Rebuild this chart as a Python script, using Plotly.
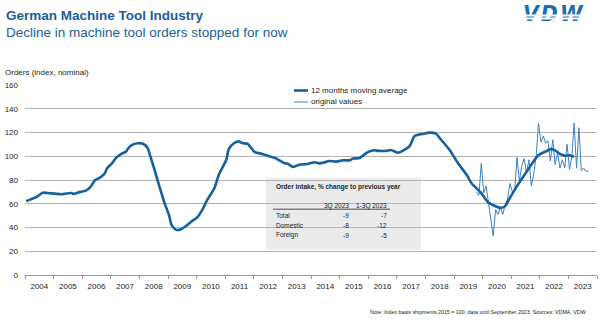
import plotly.graph_objects as go

# ---------------- data ----------------
ma_months = ["2004-01", "2004-04", "2004-06", "2004-08", "2004-10", "2005-01", "2005-04", "2005-06",
             "2005-08", "2005-09", "2005-11", "2006-02", "2006-04", "2006-06", "2006-08", "2006-10",
             "2006-11", "2007-01", "2007-03", "2007-05", "2007-07", "2007-08", "2007-10", "2007-12",
             "2008-02", "2008-04", "2008-05", "2008-07", "2008-09", "2008-11", "2009-01", "2009-02",
             "2009-04", "2009-06", "2009-08", "2009-10", "2010-01", "2010-03", "2010-05", "2010-08",
             "2010-10", "2011-01", "2011-02", "2011-04", "2011-06", "2011-08", "2011-10", "2011-11",
             "2012-01", "2012-04", "2012-07", "2012-10", "2013-01", "2013-03", "2013-05", "2013-08",
             "2013-11", "2014-02", "2014-04", "2014-06", "2014-08", "2014-11", "2015-02", "2015-05",
             "2015-06", "2015-09", "2015-12", "2016-03", "2016-05", "2016-08", "2016-10", "2017-01",
             "2017-03", "2017-06", "2017-08", "2017-12", "2018-02", "2018-05", "2018-07", "2018-11",
             "2019-02", "2019-06", "2019-08", "2019-12", "2020-03", "2020-08", "2020-10", "2020-12",
             "2021-04", "2021-08", "2021-12", "2022-03", "2022-05", "2022-07", "2022-09", "2022-11",
             "2023-01", "2023-03"]
ma_values = [62.2, 64.5, 66.5, 69.3, 69.0, 68.5, 68.0, 68.7,
             69.0, 68.3, 69.6, 71.0, 74.0, 80.0, 82.0, 85.5,
             90.0, 94.0, 99.0, 102.0, 104.0, 107.0, 110.0, 111.0,
             110.5, 107.0, 101.0, 88.0, 74.0, 61.0, 50.0, 42.0,
             38.0, 38.5, 41.0, 44.5, 49.0, 55.0, 63.0, 73.0,
             85.0, 97.0, 106.0, 110.5, 112.5, 111.0, 110.5, 108.0,
             103.5, 102.0, 100.0, 98.0, 94.5, 93.5, 91.0, 93.0,
             93.5, 95.0, 94.0, 94.7, 96.0, 95.5, 96.6, 96.6,
             98.0, 98.6, 103.0, 105.0, 104.5, 104.5, 105.3, 103.0,
             104.5, 108.7, 117.0, 119.0, 119.9, 119.0, 114.3, 104.5,
             94.7, 84.0, 77.0, 69.0, 61.0, 56.5, 58.0, 65.0,
             78.0, 90.0, 101.0, 104.0, 106.0, 105.0, 102.0, 100.5,
             100.8, 99.5]

orig_months = ["2019-10", "2019-11", "2019-12",
               "2020-01", "2020-02", "2020-03", "2020-04", "2020-05", "2020-06",
               "2020-07", "2020-08", "2020-09", "2020-10", "2020-11", "2020-12",
               "2021-01", "2021-02", "2021-03", "2021-04", "2021-05", "2021-06",
               "2021-07", "2021-08", "2021-09", "2021-10", "2021-11", "2021-12",
               "2022-01", "2022-02", "2022-03", "2022-04", "2022-05", "2022-06",
               "2022-07", "2022-08", "2022-09", "2022-10", "2022-11", "2022-12",
               "2023-01", "2023-02", "2023-03", "2023-04", "2023-05", "2023-06",
               "2023-07", "2023-08", "2023-09"]
orig_values = [70, 67, 94,
               69, 75, 62, 48, 33, 55,
               51, 57, 51, 59, 64, 77,
               70, 72, 99, 79, 92, 98,
               86, 97, 75, 85, 100, 128,
               112, 117, 111, 113, 96, 114,
               93, 103, 90, 97, 90, 110,
               89, 101, 128, 90, 124, 88,
               90, 87, 88]

years = list(range(2004, 2024))
year_labels = [str(y) for y in years]
y_ticks = [0, 20, 40, 60, 80, 100, 120, 140, 160]

table_title = "Order intake, % change to previous year"
table_cols = ["3Q 2023", "1-3Q 2023"]
table_rows = ["Total", "Domestic", "Foreign"]
table_q3 = [-9, -8, -9]
table_ytd = [-7, -12, -5]

series_names = ["12 months moving average", "original values"]

# ---------------- layout helpers ----------------
W, H = 600, 322
L, R, T, B = 25, 3, 85, 46.5
PW, PH = W - L - R, H - T - B


def px(x):
    return (x - L) / PW


def py(y):
    return (H - B - y) / PH


BLUE = "#15609f"
BLUE_L = "#3a82c0"
TITLE = "#1d5c9a"
GRID = "#b3b3b3"
FONT = "Liberation Sans, Arial, sans-serif"

fig = go.Figure()
fig.add_trace(go.Scatter(x=[m + "-15" for m in orig_months], y=orig_values, mode="lines",
                         line=dict(color=BLUE_L, width=1), name=series_names[1],
                         showlegend=False))
fig.add_trace(go.Scatter(x=[m + "-15" for m in ma_months], y=ma_values, mode="lines",
                         line=dict(color=BLUE, width=2.6, shape="spline", smoothing=0.6),
                         name=series_names[0], showlegend=False))

shapes = []
annotations = []

# table box
shapes.append(dict(type="rect", xref="paper", yref="paper", x0=px(266), x1=px(421),
                   y0=py(250), y1=py(178), fillcolor="#ebebeb", line=dict(width=0),
                   layer="between"))
shapes.append(dict(type="line", xref="paper", yref="paper", x0=px(273), x1=px(390),
                   y0=py(209.5), y1=py(209.5), line=dict(color="#222", width=0.8)))

# legend samples
shapes.append(dict(type="line", xref="paper", yref="paper", x0=px(294), x1=px(308),
                   y0=py(90.5), y1=py(90.5), line=dict(color=BLUE, width=2.6)))
shapes.append(dict(type="line", xref="paper", yref="paper", x0=px(294), x1=px(308),
                   y0=py(102), y1=py(102), line=dict(color=BLUE_L, width=1)))


def ann(text, x, y, size, color="#222", xanchor="left", bold=False, family=FONT, **kw):
    annotations.append(dict(text=("<b>%s</b>" % text) if bold else text, x=px(x), y=py(y),
                            xref="paper", yref="paper", xanchor=xanchor, yanchor="middle",
                            showarrow=False, font=dict(size=size, color=color, family=family), **kw))


ann("German Machine Tool Industry", 4, 15, 13.5, TITLE, bold=True)
ann("Decline in machine tool orders stopped for now", 4, 32, 13.5, TITLE)
# logo
ann('<span style="letter-spacing:2px"><i>VDW</i></span>', 521, 14, 20.5, "#1a6db0", bold=True,
    family="DejaVu Sans, sans-serif")
for sy in (15.6, 18.4):
    annotations.append(dict(text=" ", x=px(557), y=py(sy), xref="paper", yref="paper",
                            xanchor="center", yanchor="middle", showarrow=False,
                            width=80, height=1, bgcolor="white", borderpad=0,
                            font=dict(size=1)))
ann("Orders (index, nominal)", 3, 72.7, 8)
ann(series_names[0], 309, 90.5, 8)
ann(series_names[1], 309, 102, 8)
ann(table_title, 274, 187, 6.5, bold=True)
ann(table_cols[0], 351, 206.5, 6.5, xanchor="right")
ann(table_cols[1], 389, 206.5, 6.5, xanchor="right")
for i, name in enumerate(table_rows):
    yy = 215.7 + 10 * i
    ann(name, 274, yy, 6.5)
    ann(str(table_q3[i]), 351, yy, 6.5, xanchor="right")
    ann(str(table_ytd[i]), 389, yy, 6.5, xanchor="right")
ann("Note: Index basis shipments 2015 = 100, data until September 2023, Sources: VDMA, VDW",
    588, 313, 5.3, xanchor="right")

fig.update_layout(
    width=W, height=H, margin=dict(l=L, r=R, t=T, b=B, pad=0),
    paper_bgcolor="white", plot_bgcolor="white",
    font=dict(family=FONT, color="#222"),
    showlegend=False, shapes=shapes, annotations=annotations,
    xaxis=dict(type="date", range=["2004-01-01", "2024-01-01"],
               tickvals=["%d-07-02" % y for y in years], ticktext=year_labels,
               ticks="outside", ticklen=3, tickcolor="rgba(0,0,0,0)",
               tickfont=dict(size=8, color="#222"), showgrid=False, zeroline=False,
               showline=True, linecolor="#999", linewidth=1,
               minor=dict(tickvals=["%d-01-01" % y for y in years + [2024]], ticks="outside",
                          ticklen=3, tickcolor="#999", tickwidth=1, showgrid=False)),
    yaxis=dict(range=[0, 160], tickvals=y_ticks, tickfont=dict(size=8, color="#222"),
               showgrid=True, gridcolor=GRID, gridwidth=1, zeroline=False, showline=False,
               ticks="", ticklabelstandoff=6),
)

fig.write_html("out.html")
